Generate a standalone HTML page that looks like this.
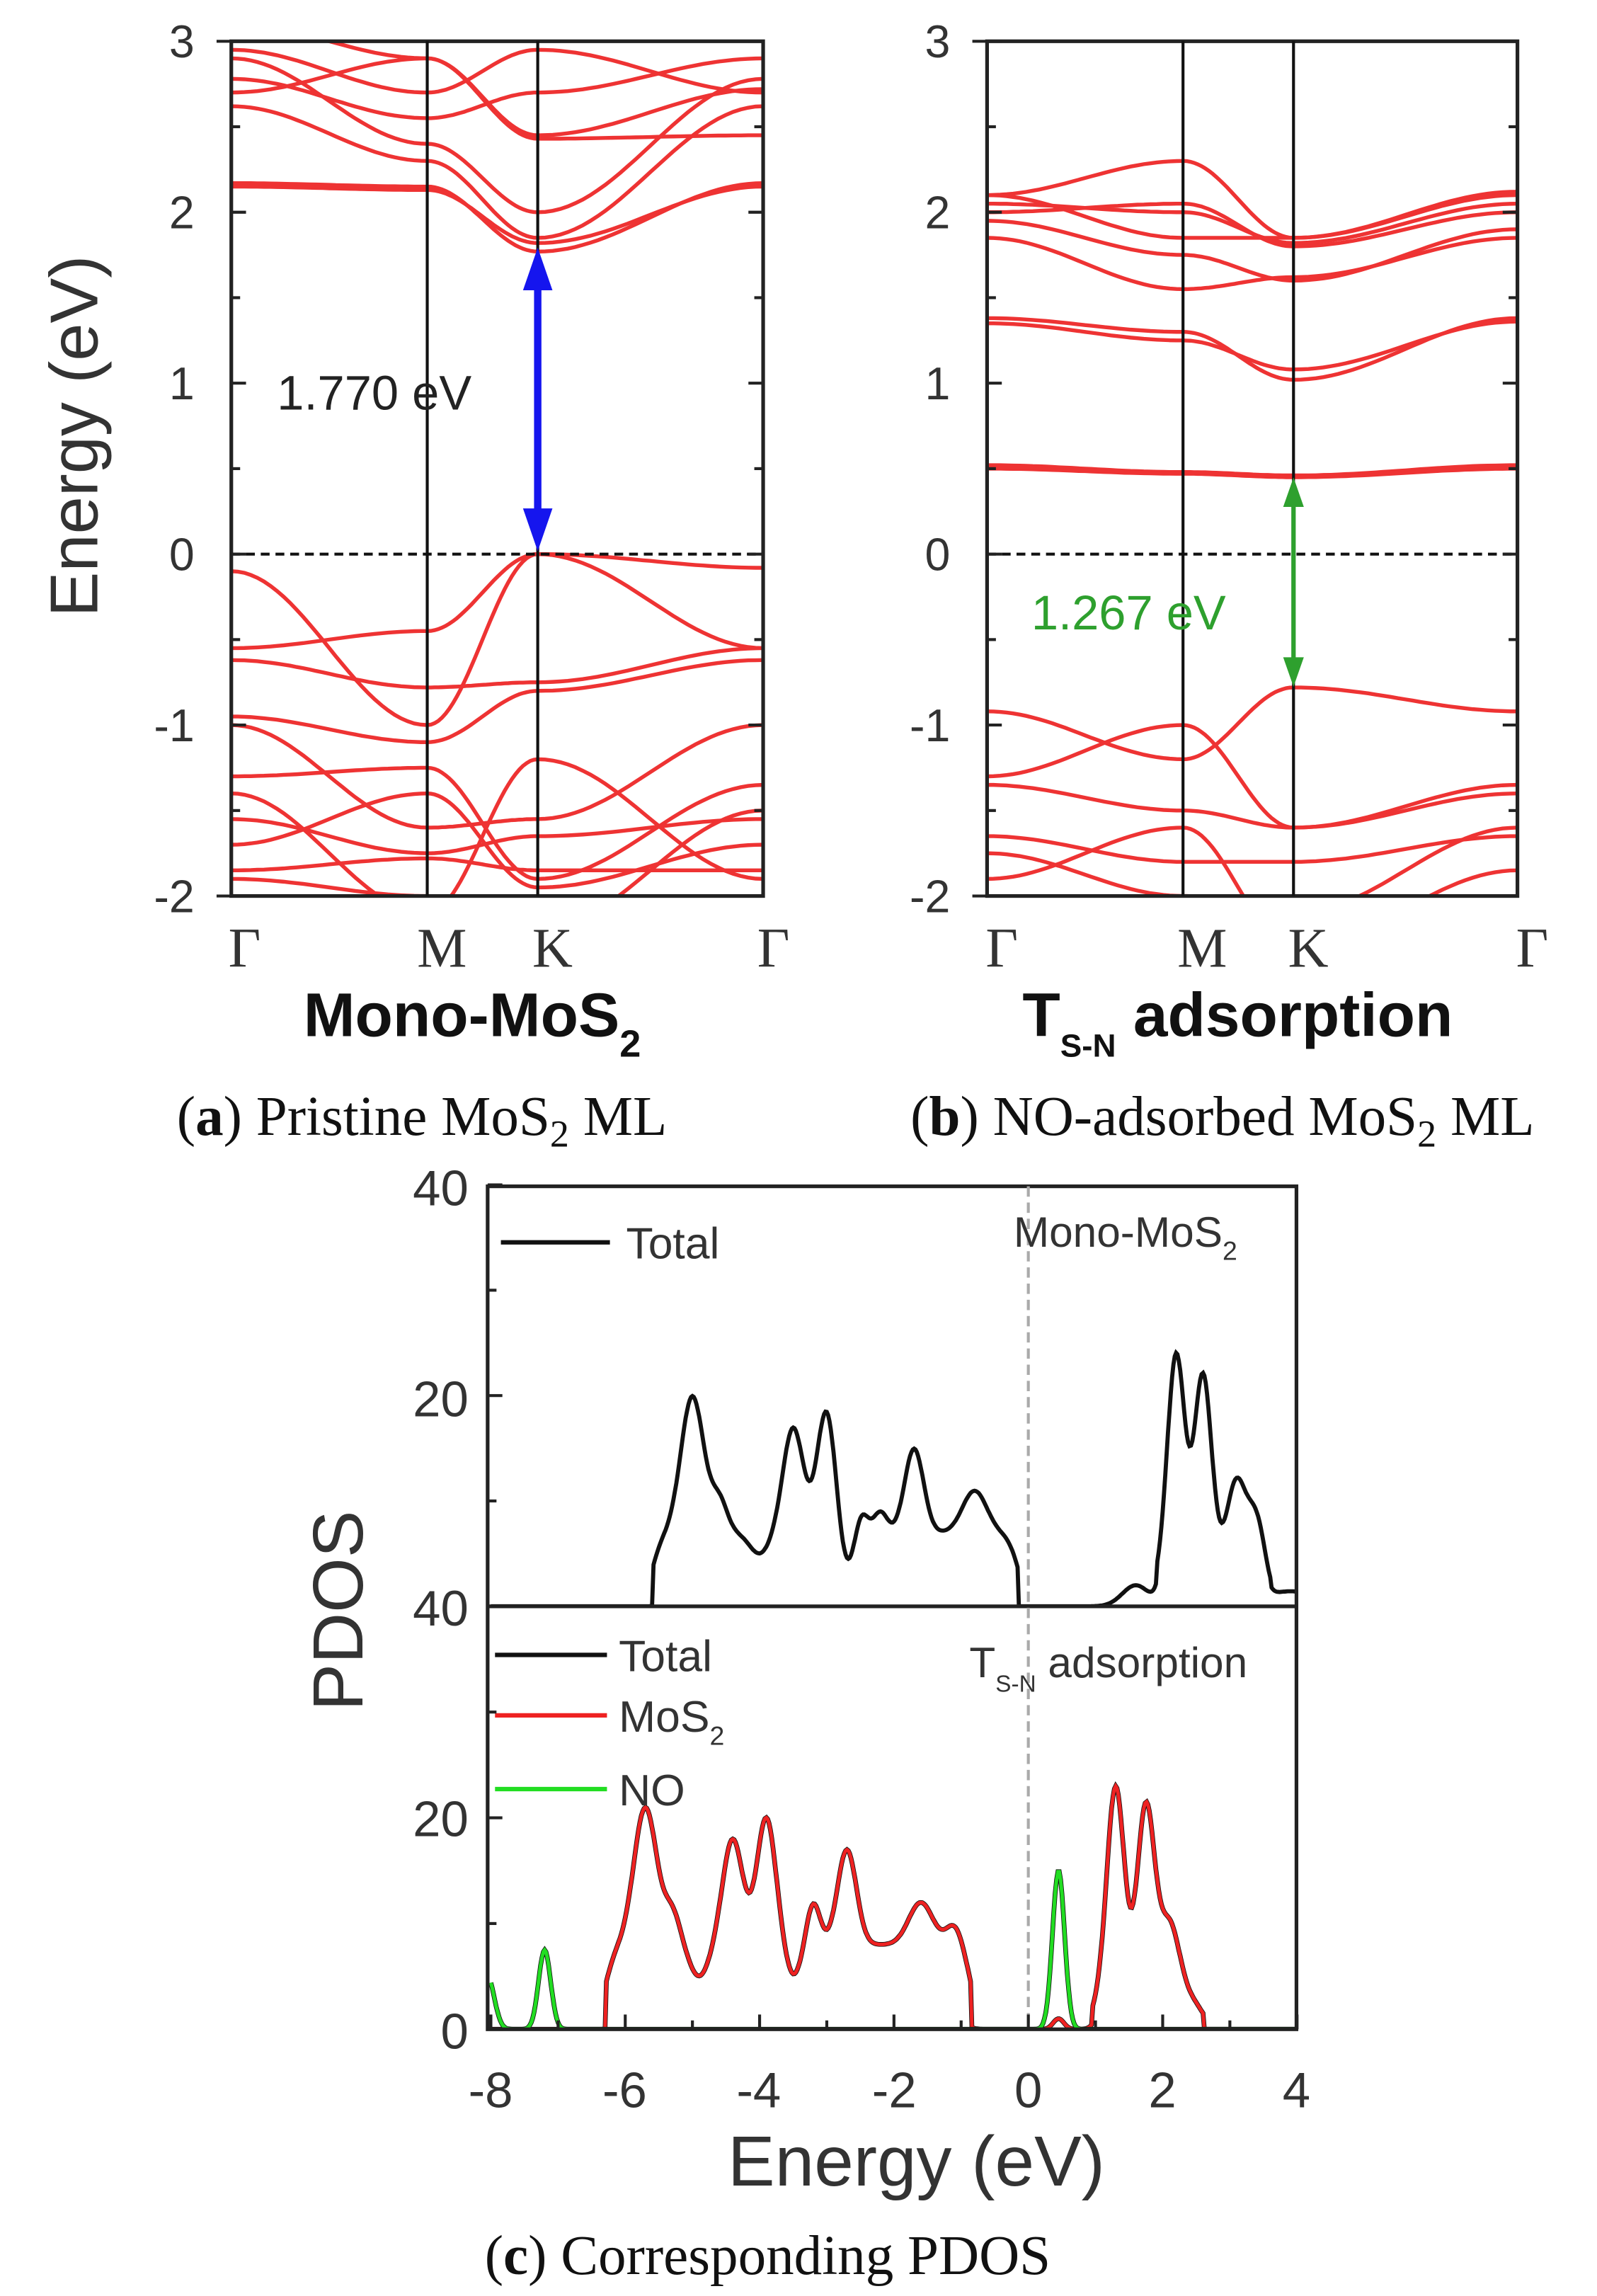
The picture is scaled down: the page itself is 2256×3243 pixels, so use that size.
<!DOCTYPE html>
<html><head><meta charset="utf-8"><style>
html,body{margin:0;padding:0;background:#fff;}
svg{display:block;}
.s{font-family:"Liberation Sans",sans-serif;}
.r{font-family:"Liberation Serif",serif;}
</style></head><body>
<svg id="g" width="2256" height="3243" viewBox="0 0 1084 1558" preserveAspectRatio="none" xmlns="http://www.w3.org/2000/svg">
<defs>
<clipPath id="ca"><rect x="157" y="28" width="361" height="580"/></clipPath>
<clipPath id="cb"><rect x="670" y="28" width="360" height="580"/></clipPath>
<clipPath id="c1"><rect x="331" y="805" width="549" height="285"/></clipPath>
<clipPath id="c2"><rect x="331" y="1090" width="549" height="287"/></clipPath>
</defs>
<g id="bands"></g>
<!-- panel a -->
<rect x="157" y="28" width="361" height="580" fill="none" stroke="#222" stroke-width="2.5"/>
<line x1="290" y1="28" x2="290" y2="608" stroke="#111" stroke-width="2"/>
<line x1="365" y1="28" x2="365" y2="608" stroke="#111" stroke-width="2"/>
<line x1="157" y1="376" x2="518" y2="376" stroke="#111" stroke-width="2" stroke-dasharray="6,4"/>
<g class="s" font-size="31" fill="#333" text-anchor="end">
<text x="132" y="39">3</text><text x="132" y="155">2</text><text x="132" y="271">1</text><text x="132" y="387">0</text><text x="132" y="503">-1</text><text x="132" y="619">-2</text>
</g>
<text class="s" font-size="46" fill="#333" text-anchor="middle" transform="translate(66,296) rotate(-90)">Energy (eV)</text>
<g class="r" font-size="38" fill="#333" text-anchor="middle">
<text x="166" y="656">Γ</text><text x="300" y="656">M</text><text x="375" y="656">K</text><text x="525" y="656">Γ</text>
<text x="680" y="656">Γ</text><text x="816" y="656">M</text><text x="888" y="656">K</text><text x="1040" y="656">Γ</text>
</g>
<text class="s" font-size="42" font-weight="bold" fill="#111" x="206" y="703">Mono-MoS<tspan font-size="26" dy="14">2</tspan></text>
<line x1="365" y1="190" x2="365" y2="356" stroke="#1515ee" stroke-width="5"/>
<polygon points="365,168 355,197 375,197" fill="#1515ee"/>
<polygon points="365,374 355,345 375,345" fill="#1515ee"/>
<text class="s" font-size="33" fill="#222" x="188" y="278">1.770 eV</text>
<!-- panel b -->
<rect x="670" y="28" width="360" height="580" fill="none" stroke="#222" stroke-width="2.5"/>
<line x1="803" y1="28" x2="803" y2="608" stroke="#111" stroke-width="2"/>
<line x1="878" y1="28" x2="878" y2="608" stroke="#111" stroke-width="2"/>
<line x1="670" y1="376" x2="1030" y2="376" stroke="#111" stroke-width="2" stroke-dasharray="6,4"/>
<g class="s" font-size="31" fill="#333" text-anchor="end">
<text x="645" y="39">3</text><text x="645" y="155">2</text><text x="645" y="271">1</text><text x="645" y="387">0</text><text x="645" y="503">-1</text><text x="645" y="619">-2</text>
</g>
<text class="s" font-size="42" font-weight="bold" fill="#111" x="694" y="703">T<tspan font-size="22" dy="14">S-N</tspan><tspan dy="-14"> adsorption</tspan></text>
<line x1="878" y1="338" x2="878" y2="450" stroke="#2ea02e" stroke-width="3"/>
<polygon points="878,324 871,344 885,344" fill="#2ea02e"/>
<polygon points="878,466 871,446 885,446" fill="#2ea02e"/>
<text class="s" font-size="33" fill="#2ea02e" x="700" y="427">1.267 eV</text>
<g id="ticks" stroke="#222" stroke-width="2"></g>
<!-- captions -->
<g class="r" font-size="38" fill="#111">
<text x="120" y="770">(<tspan font-weight="bold">a</tspan>) Pristine MoS<tspan font-size="26" dy="8">2</tspan><tspan dy="-8"> ML</tspan></text>
<text x="618" y="770">(<tspan font-weight="bold">b</tspan>) NO-adsorbed MoS<tspan font-size="26" dy="8">2</tspan><tspan dy="-8"> ML</tspan></text>
<text x="329" y="1543">(<tspan font-weight="bold">c</tspan>) Corresponding PDOS</text>
</g>
<!-- panel c -->
<g id="pdos"></g>
<rect x="331" y="805" width="549" height="572" fill="none" stroke="#222" stroke-width="2.5"/>
<line x1="331" y1="1090" x2="880" y2="1090" stroke="#222" stroke-width="2.5"/>
<line x1="698" y1="805" x2="698" y2="1377" stroke="#aaa" stroke-width="2" stroke-dasharray="7,4"/>
<g class="s" font-size="34" fill="#333" text-anchor="end">
<text x="318" y="818">40</text><text x="318" y="961">20</text><text x="318" y="1103">40</text><text x="318" y="1246">20</text><text x="318" y="1390">0</text>
</g>
<g class="s" font-size="34" fill="#333" text-anchor="middle">
<text x="333" y="1430">-8</text><text x="424" y="1430">-6</text><text x="515" y="1430">-4</text><text x="607" y="1430">-2</text><text x="698" y="1430">0</text><text x="789" y="1430">2</text><text x="880" y="1430">4</text>
</g>
<text class="s" font-size="48" fill="#333" text-anchor="middle" x="622" y="1483">Energy (eV)</text>
<text class="s" font-size="48" fill="#333" text-anchor="middle" transform="translate(246,1093) rotate(-90)">PDOS</text>
<line x1="340" y1="843" x2="414" y2="843" stroke="#111" stroke-width="3"/>
<text class="s" font-size="30" fill="#333" x="425" y="854">Total</text>
<text class="s" font-size="29" fill="#333" x="688" y="846">Mono-MoS<tspan font-size="18" dy="9">2</tspan></text>
<line x1="336" y1="1123" x2="412" y2="1123" stroke="#111" stroke-width="3"/>
<text class="s" font-size="30" fill="#333" x="420" y="1134">Total</text>
<line x1="336" y1="1164" x2="412" y2="1164" stroke="#ee2222" stroke-width="3"/>
<text class="s" font-size="30" fill="#333" x="420" y="1175">MoS<tspan font-size="18" dy="9">2</tspan></text>
<line x1="336" y1="1214" x2="412" y2="1214" stroke="#22dd22" stroke-width="3"/>
<text class="s" font-size="30" fill="#333" x="420" y="1225">NO</text>
<text class="s" font-size="29" fill="#333" x="658" y="1138">T<tspan font-size="16" dy="10">S-N</tspan><tspan dy="-10"> adsorption</tspan></text>
<g id="ticks2" stroke="#222" stroke-width="2"></g>
</svg>
<script>
var NS="http://www.w3.org/2000/svg";
function el(p,t,a){var e=document.createElementNS(NS,t);for(var k in a)e.setAttribute(k,a[k]);p.appendChild(e);return e;}
var bg=document.getElementById('bands');
function bands(xs,list,clip){
 var g=el(bg,'g',{'clip-path':'url(#'+clip+')',fill:'none',stroke:'#ee3333','stroke-width':2.6});
 list.forEach(function(b){
  var d='';
  for(var s=0;s<3;s++){
   for(var i=0;i<=30;i++){var t=i/30;var x=xs[s]+(xs[s+1]-xs[s])*t;
    var e=b[s]+(b[s+1]-b[s])*(1-Math.cos(Math.PI*t))/2;
    var y=376-116*e; d+=(d?'L':'M')+x.toFixed(1)+','+y.toFixed(1);}
  }
  el(g,'path',{d:d});
 });
}
bands([157,290,365,518],[
[2.17,2.15,1.77,2.17],[2.15,2.13,1.82,2.15],[2.62,2.3,1.85,2.62],[2.7,2.9,2.45,2.72],
[2.78,2.55,2.7,2.9],[2.95,2.7,2.95,2.7],[2.9,2.4,2.0,2.78],[3.1,2.9,2.43,2.45],
[-0.55,-0.45,0,-0.55],[-0.1,-1.0,0,-0.08],[-0.62,-0.78,-0.75,-0.55],[-0.95,-1.1,-0.8,-0.62],
[-1.3,-1.25,-1.9,-1.35],[-1.0,-1.6,-1.55,-1.0],[-1.55,-1.75,-1.65,-1.55],[-1.7,-1.4,-1.95,-1.7],
[-1.85,-1.78,-1.85,-1.85],[-1.9,-2.0,-2.2,-1.5],[-1.4,-2.1,-1.2,-1.9]
],'ca');
bands([670,803,878,1030],[
[0.52,0.48,0.46,0.52],[0.5,0.47,0.45,0.5],[1.38,1.3,1.02,1.38],[1.35,1.25,1.08,1.36],
[1.85,1.55,1.62,1.85],[1.95,1.75,1.6,1.9],[2.05,2.0,1.82,2.05],[2.1,1.85,1.85,2.12],
[2.0,2.05,1.8,2.0],[2.1,2.3,1.85,2.1],
[-0.92,-1.2,-0.78,-0.92],[-1.35,-1.5,-1.6,-1.35],[-1.3,-1.0,-1.6,-1.4],
[-1.65,-1.8,-1.8,-1.65],[-1.75,-2.0,-2.1,-1.6],[-1.9,-1.6,-2.3,-1.85]
],'cb');
var tk=document.getElementById('ticks');
[[157,518],[670,1030]].forEach(function(p){
 for(var e=-2;e<=3;e+=0.5){var y=376-116*e;var L=(e%1===0)?10:6;
  el(tk,'line',{x1:p[0],y1:y,x2:p[0]+L,y2:y});el(tk,'line',{x1:p[1],y1:y,x2:p[1]-L,y2:y});}
 el(tk,'line',{x1:p[0]-10,y1:28,x2:p[0],y2:28});el(tk,'line',{x1:p[0]-10,y1:608,x2:p[0],y2:608});
});
var t2=document.getElementById('ticks2');
for(var v=0;v<=40;v+=10){[[1090,143/20],[1377,143.5/20]].forEach(function(q){var y=q[0]-v*q[1];var L=(v%20===0)?10:6;el(t2,'line',{x1:331,y1:y,x2:331+L,y2:y});});}
for(var x=-8;x<=4;x+=1){var px=698+45.6*x;var L=(x%2===0)?10:6;el(t2,'line',{x1:px,y1:1377,x2:px,y2:1377-L});}
var pg=document.getElementById('pdos');
function curve(peaks,lo,hi,base,y0,sc,col,clip,w){
 var d='';
 for(var x=-8;x<=4.001;x+=0.02){var v=0;
  peaks.forEach(function(p){v+=p[1]*Math.exp(-Math.pow((x-p[0])/p[2],2)/2);});
  base.forEach(function(b){if(x>b[0]&&x<b[1])v+=b[2]*(1/(1+Math.exp(-(x-b[0])/0.08)))*(1/(1+Math.exp((x-b[1])/0.08)));});
  var px=698+45.6*x,py=y0-v*sc;
  d+=(d?'L':'M')+px.toFixed(1)+','+py.toFixed(1);}
 el(pg,'path',{d:d,fill:'none',stroke:col,'stroke-width':w||2.5,'clip-path':'url(#'+clip+')'});
}
curve([[-5.0,13,0.17],[-4.6,3,0.12],[-3.5,10,0.15],[-3.0,12,0.14],[-2.5,3,0.1],[-2.2,2,0.1],[-1.7,8,0.14],[-0.8,4,0.18],[-4.0,-2,0.15],[-2.7,-4,0.15],[2.2,21,0.13],[2.6,19,0.13],[3.1,9,0.15],[3.4,5,0.12],[1.6,2,0.2]],
 0,0,[[-5.6,-0.15,7],[1.9,3.6,3],[3.6,4.2,1.5]],1090,7.13,'#111','c1',2.8);
var red=[[-5.7,13,0.17],[-5.3,3,0.12],[-4.4,10,0.15],[-3.9,12,0.14],[-3.2,4,0.1],[-2.7,9,0.14],[-1.6,4,0.18],[-1.1,2,0.12],[-4.9,-3,0.15],[-3.5,-3,0.12],[1.3,20,0.13],[1.75,18,0.13],[2.1,7,0.15],[0.45,1,0.08]];
var rb=[[-6.3,-0.85,8],[0.95,2.6,3]];
curve(red,0,0,rb,1377,7.17,'#111','c2',3.2);
curve(red,0,0,rb,1377,7.17,'#ee2222','c2',2.4);
curve([[-7.2,7.5,0.09],[0.45,15,0.09],[-8.05,5,0.1]],0,0,[],1377,7.17,'#111','c2',3.2);
curve([[-7.2,7.5,0.09],[0.45,15,0.09],[-8.05,5,0.1]],0,0,[],1377,7.17,'#22dd22','c2',2.4);
</script>
</body></html>
